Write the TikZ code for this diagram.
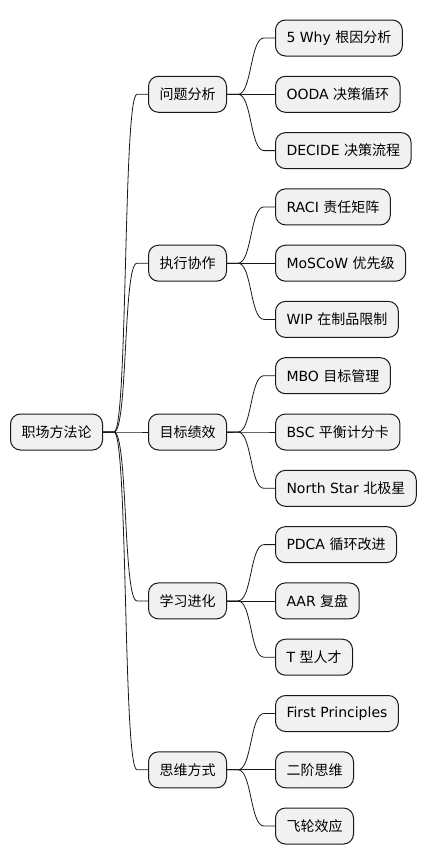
\documentclass[tikz,border=0pt]{standalone}
\usepackage{fontspec}
\setmainfont{DejaVu Sans}
\newfontfamily\cjk{Noto Sans CJK SC}
\usetikzlibrary{positioning, calc}
\definecolor{boxfill}{HTML}{F1F1F1}
\definecolor{boxline}{HTML}{181818}
\tikzset{
    topic/.style={
        draw = boxline, fill = boxfill, line width = 1pt,
        rounded corners = 10pt,
        minimum height = 36pt,
        inner xsep = 11pt,
        anchor = west,
        font = \fontsize{14pt}{16pt}\selectfont
    },
    link/.style = {draw = boxline, line width = 0.8pt}
}
\newcommand{\mapedge}[2]{%
    \draw[link] (#1.east) -- ++(11pt,0) .. controls +(14pt,0) and +(-14pt,0) .. ($(#2.west)+(-11pt,0)$) -- (#2.west);}

\begin{document}
\begin{tikzpicture}[x=1pt, y=1pt]

                                \useasboundingbox (0,0) rectangle (425,-865);

                                % root
                                \node[topic] (root) at (10,-432) {\cjk 职场方法论};

                                % first level
                                \node[topic] (problem) at (148,-94.3) {\cjk 问题分析};
                                \node[topic] (execute) at (148,-263.2) {\cjk 执行协作};
                                \node[topic] (goal) at (148,-432) {\cjk 目标绩效};
                                \node[topic] (learn) at (148,-600.9) {\cjk 学习进化};
                                \node[topic] (think) at (148,-769.8) {\cjk 思维方式};

                                % second level
                                \node[topic] (why) at (275,-38) {5 Why {\cjk 根因分析}};
                                \node[topic] (ooda) at (275,-94.3) {OODA {\cjk 决策循环}};
                                \node[topic] (decide) at (275,-150.6) {DECIDE {\cjk 决策流程}};
                                \node[topic] (raci) at (275,-206.9) {RACI {\cjk 责任矩阵}};
                                \node[topic] (moscow) at (275,-263.2) {MoSCoW {\cjk 优先级}};
                                \node[topic] (wip) at (275,-319.4) {WIP {\cjk 在制品限制}};
                                \node[topic] (mbo) at (275,-375.7) {MBO {\cjk 目标管理}};
                                \node[topic] (bsc) at (275,-432) {BSC {\cjk 平衡计分卡}};
                                \node[topic] (star) at (275,-488.3) {North Star {\cjk 北极星}};
                                \node[topic] (pdca) at (275,-544.6) {PDCA {\cjk 循环改进}};
                                \node[topic] (aar) at (275,-600.9) {AAR {\cjk 复盘}};
                                \node[topic] (tshape) at (275,-657.2) {T {\cjk 型人才}};
                                \node[topic] (first) at (275,-713.5) {First Principles};
                                \node[topic] (second) at (275,-769.8) {\cjk 二阶思维};
                                \node[topic] (flywheel) at (275,-826) {\cjk 飞轮效应};

                                \mapedge{root}{problem}
                                \mapedge{root}{execute}
                                \mapedge{root}{goal}
                                \mapedge{root}{learn}
                                \mapedge{root}{think}

                                \mapedge{problem}{why}
                                \mapedge{problem}{ooda}
                                \mapedge{problem}{decide}
                                \mapedge{execute}{raci}
                                \mapedge{execute}{moscow}
                                \mapedge{execute}{wip}
                                \mapedge{goal}{mbo}
                                \mapedge{goal}{bsc}
                                \mapedge{goal}{star}
                                \mapedge{learn}{pdca}
                                \mapedge{learn}{aar}
                                \mapedge{learn}{tshape}
                                \mapedge{think}{first}
                                \mapedge{think}{second}
                                \mapedge{think}{flywheel}

                            \end{tikzpicture}
\end{document}
